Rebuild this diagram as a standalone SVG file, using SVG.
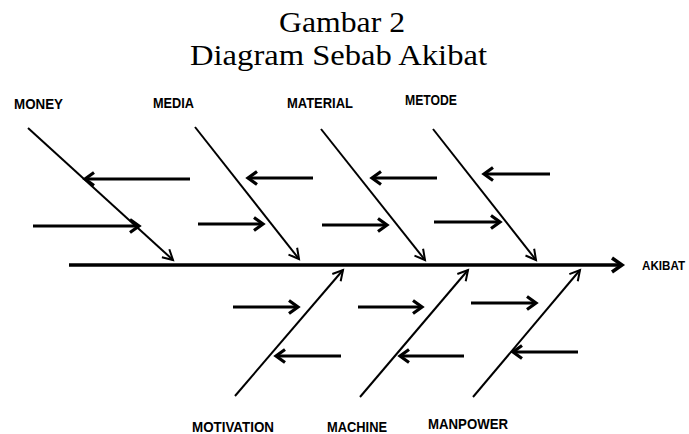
<svg xmlns="http://www.w3.org/2000/svg" width="689" height="434" viewBox="0 0 689 434">
  <style>
    .title { font-family: "Liberation Serif", "DejaVu Serif", serif; font-size: 29px; fill: #000; }
    .label { font-family: "Liberation Sans", Arial, sans-serif; font-size: 15px; font-weight: bold; fill: #000; }
    .effect { font-size: 12.5px; }
    .spine { stroke: #000; stroke-width: 3.5; fill: none; marker-end: url(#spineHead); }
    .bone { stroke: #000; stroke-width: 2; fill: none; marker-end: url(#boneHead); }
    .feather { stroke: #000; stroke-width: 3.2; fill: none; marker-end: url(#featherHead); }
  </style>
  <defs>
    <marker id="boneHead" markerUnits="userSpaceOnUse" viewBox="-14 -10 16 20" refX="0" refY="0" markerWidth="16" markerHeight="20" orient="auto" overflow="visible">
      <path d="M-10,-5.5 L0,0 L-10,5.5" fill="none" stroke="#000" stroke-width="2"/>
    </marker>
    <marker id="featherHead" markerUnits="userSpaceOnUse" viewBox="-14 -10 16 20" refX="0" refY="0" markerWidth="16" markerHeight="20" orient="auto" overflow="visible">
      <path d="M-9,-6.5 L0,0 L-9,6.5" fill="none" stroke="#000" stroke-width="3.2"/>
    </marker>
    <marker id="spineHead" markerUnits="userSpaceOnUse" viewBox="-14 -10 16 20" refX="0" refY="0" markerWidth="16" markerHeight="20" orient="auto" overflow="visible">
      <path d="M-10,-7 L0,0 L-10,7" fill="none" stroke="#000" stroke-width="3.5"/>
    </marker>
  </defs>

  <!-- heading -->
  <text class="title" x="279" y="32" textLength="126" lengthAdjust="spacingAndGlyphs">Gambar 2</text>
  <text class="title" x="190" y="65" textLength="297" lengthAdjust="spacingAndGlyphs">Diagram Sebab Akibat</text>

  <!-- connectors: spine, bones and contributing arrows -->
  <g id="connectors">
    <line class="spine" x1="69" y1="265" x2="622" y2="265"/>

    <line class="bone" x1="28" y1="128" x2="173" y2="260"/>
    <line class="bone" x1="195" y1="127" x2="299" y2="259"/>
    <line class="bone" x1="321" y1="129" x2="425" y2="260"/>
    <line class="bone" x1="433" y1="129" x2="536" y2="260"/>

    <line class="bone" x1="235" y1="396" x2="343" y2="270"/>
    <line class="bone" x1="360" y1="397" x2="468" y2="270"/>
    <line class="bone" x1="473" y1="397" x2="580" y2="270"/>

    <line class="feather" x1="190" y1="179" x2="85" y2="179"/>
    <line class="feather" x1="33" y1="226" x2="139" y2="226"/>
    <line class="feather" x1="313" y1="178" x2="248" y2="178"/>
    <line class="feather" x1="198" y1="224" x2="263" y2="224"/>
    <line class="feather" x1="437" y1="178" x2="372" y2="178"/>
    <line class="feather" x1="322" y1="225" x2="387" y2="225"/>
    <line class="feather" x1="550" y1="174" x2="484" y2="174"/>
    <line class="feather" x1="434" y1="222" x2="500" y2="222"/>

    <line class="feather" x1="233" y1="307" x2="298" y2="307"/>
    <line class="feather" x1="341" y1="356" x2="276" y2="356"/>
    <line class="feather" x1="358" y1="307" x2="422" y2="307"/>
    <line class="feather" x1="464" y1="356" x2="400" y2="356"/>
    <line class="feather" x1="471" y1="303" x2="536" y2="303"/>
    <line class="feather" x1="578" y1="352" x2="513" y2="352"/>
  </g>

  <!-- cause categories -->
  <g id="money"><text class="label" x="14" y="109" textLength="49" lengthAdjust="spacingAndGlyphs">MONEY</text></g>
  <g id="media"><text class="label" x="153" y="108" textLength="41" lengthAdjust="spacingAndGlyphs">MEDIA</text></g>
  <g id="material"><text class="label" x="287" y="108" textLength="66" lengthAdjust="spacingAndGlyphs">MATERIAL</text></g>
  <g id="metode"><text class="label" x="405" y="105" textLength="52" lengthAdjust="spacingAndGlyphs">METODE</text></g>
  <g id="motivation"><text class="label" x="192" y="432" textLength="82" lengthAdjust="spacingAndGlyphs">MOTIVATION</text></g>
  <g id="machine"><text class="label" x="327" y="432" textLength="60" lengthAdjust="spacingAndGlyphs">MACHINE</text></g>
  <g id="manpower"><text class="label" x="428" y="429" textLength="80" lengthAdjust="spacingAndGlyphs">MANPOWER</text></g>

  <!-- effect -->
  <g id="akibat"><text class="label effect" x="642" y="270" textLength="43" lengthAdjust="spacingAndGlyphs">AKIBAT</text></g>
</svg>
